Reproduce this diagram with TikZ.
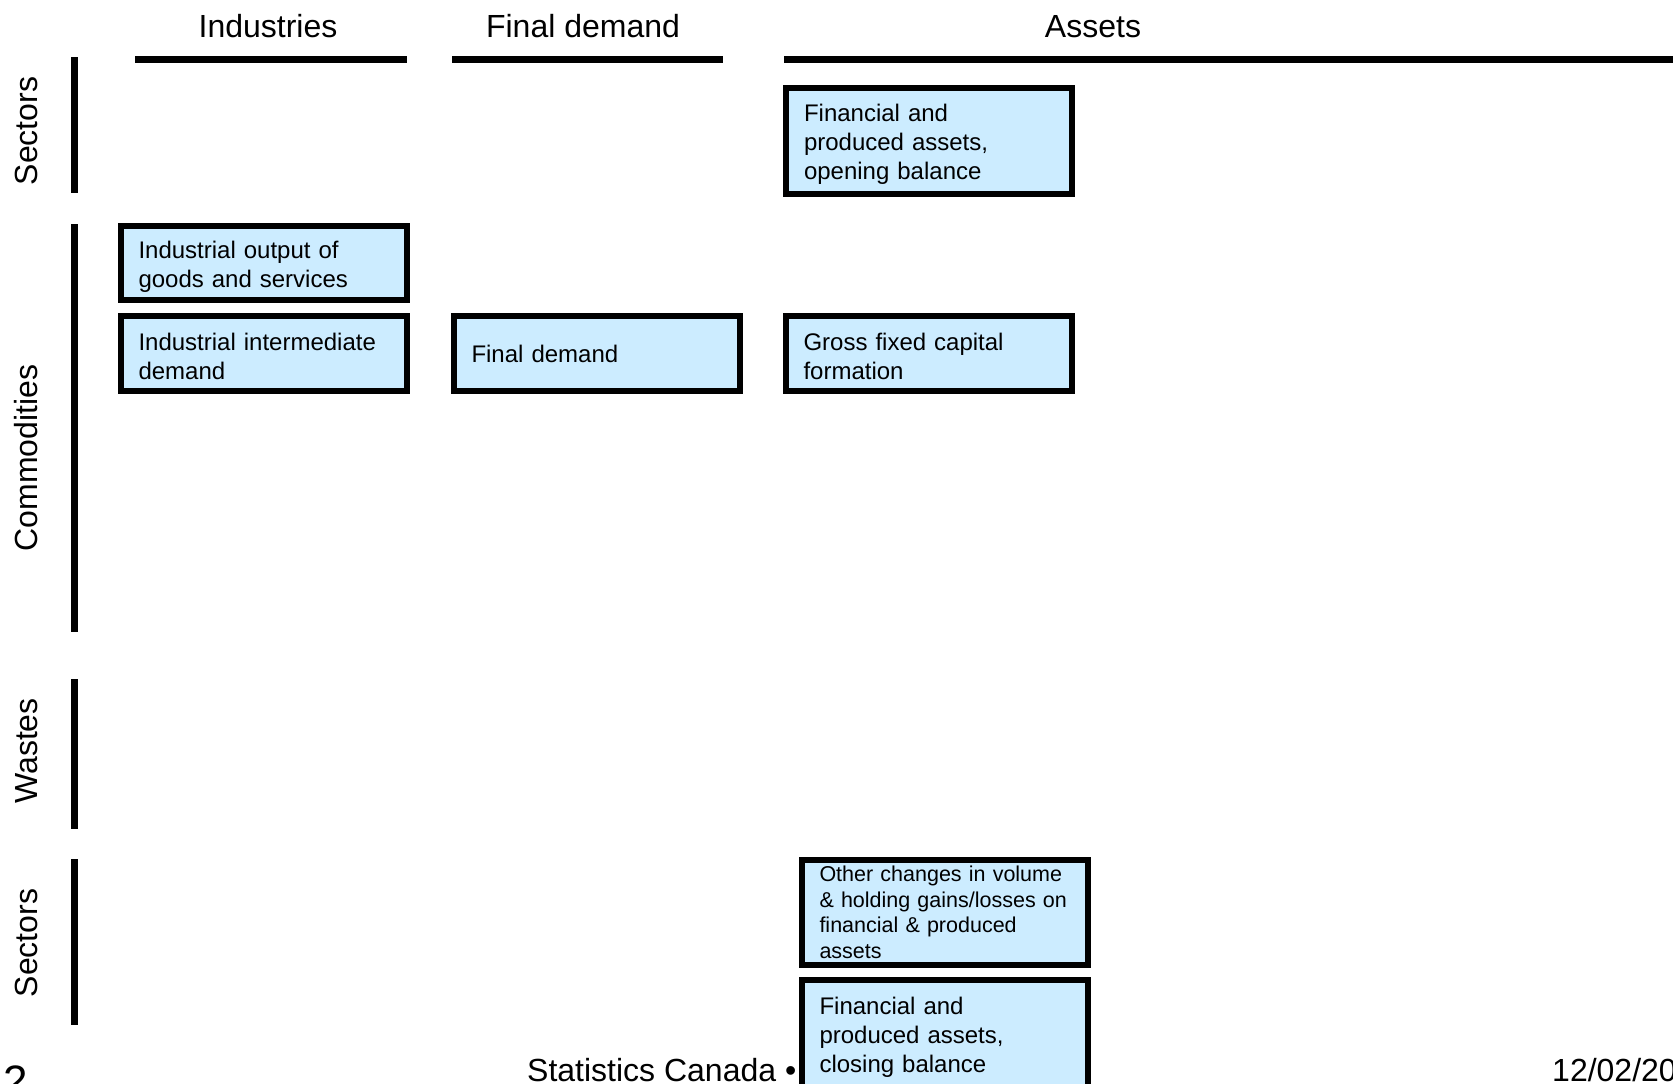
\documentclass[tikz,border=0pt]{standalone}
\usepackage{fontspec}
\setmainfont{Liberation Sans}
\definecolor{myskyblue}{RGB}{204,236,255}
\usetikzlibrary{positioning}

\begin{document}
\begin{tikzpicture}[
  x=1pt, y=1pt,
  mybox/.style={
    draw,
    line width=6pt,
    fill=myskyblue,
    text width=250pt,
    inner xsep=18pt,
    align=left,
    minimum height=#1,
    font=\fontsize{24}{29}\selectfont
    },
  mybox/.default=75pt,
  mylift/.style={execute at begin node={\rule{0pt}{24pt}}},
  myhead/.style={anchor=base, font=\fontsize{32}{38}\selectfont},
  myrow/.style={rotate=90, anchor=base, font=\fontsize{32}{38}\selectfont},
  myfoot/.style={anchor=base west, inner sep=0pt, font=\fontsize{32}{38}\selectfont},
  mybar/.style={line width=7pt}
]
\useasboundingbox (0,0) rectangle (1673,-1084);
\clip (0,0) rectangle (1673,-1084);

% column heads
\node[myhead] (industries) at (268,-37) {Industries};
\node[myhead] (finaldemand) at (583,-37) {Final demand};
\node[myhead] (assets) at (1093,-37) {Assets};
\draw[mybar] (135,-59) -- (407,-59);
\draw[mybar] (452,-59) -- (723,-59);
\draw[mybar] (784,-59) -- (1680,-59);

% row heads
\foreach \lbl/\ymid/\ytop/\ybot [count=\i] in {Sectors/131/57/193, Commodities/458/224/632, Wastes/751/679/829, Sectors/943/859/1025}
{
  \draw[mybar] (74,-\ytop) -- (74,-\ybot);
  \node[myrow] (row\i) at (37,-\ymid) {\lbl};
}

% footer
\node[myfoot, font=\fontsize{44}{50}\selectfont] (pagenum) at (3,-1096) {2};
\node[myfoot] (agency) at (527,-1081) {Statistics Canada •};
\node[myfoot] (date) at (1552,-1081) {12/02/20};

% accounts
\node[mybox=106pt, mylift] (opening) at (929,-141)
  {Financial and\\produced assets,\\opening balance};
\node[mybox=74pt, mylift] (output) at (263.5,-263)
  {Industrial output of\\goods and services};
\node[mybox, mylift] (interm) [below=10pt of output]
  {Industrial intermediate\\demand};
\node[mybox] (final) [right=41pt of interm]
  {Final demand};
\node[mybox, mylift] (gfcf) [right=40pt of final]
  {Gross fixed capital\\formation};
\node[mybox=105pt, font=\fontsize{21.5}{25.5}\selectfont] (changes) at (944.5,-912.5)
  {Other changes in volume\\\& holding gains/losses on\\financial \& produced\\assets};
\node[mybox=108pt, mylift] (closing) [below=9pt of changes]
  {Financial and\\produced assets,\\closing balance};
\end{tikzpicture}
\end{document}
